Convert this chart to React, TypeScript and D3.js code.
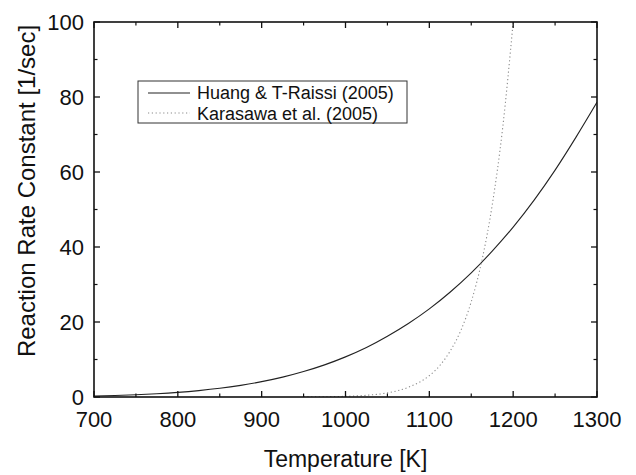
import React from "react";
import * as d3 from "d3";

// Temperature grid [K] and rate constants [1/sec]
const huangT = [700, 725, 750, 775, 800, 825, 850, 875, 900, 925, 950, 975, 1000, 1025, 1050, 1075, 1100, 1125, 1150, 1175, 1200, 1225, 1250, 1275, 1300];
const huangK = [0.26, 0.4, 0.6, 0.87, 1.23, 1.71, 2.32, 3.11, 4.09, 5.3, 6.79, 8.57, 10.7, 13.2, 16.2, 19.6, 23.5, 28.0, 33.1, 38.9, 45.3, 52.5, 60.5, 69.3, 78.6];

const karaT = [950, 975, 1000, 1025, 1050, 1075, 1100, 1112.5, 1125, 1137.5, 1150, 1162.5, 1175, 1187.5, 1200];
const karaK = [0.03, 0.07, 0.18, 0.46, 1.1, 2.6, 5.7, 8.4, 12.3, 17.7, 25.4, 36.2, 51.2, 71.8, 100];

const xTicks = [700, 800, 900, 1000, 1100, 1200, 1300];
const xMinor = [750, 850, 950, 1050, 1150, 1250];
const yTicks = [0, 20, 40, 60, 80, 100];
const yMinor = [10, 30, 50, 70, 90];

const legendLabels = ["Huang & T-Raissi (2005)", "Karasawa et al. (2005)"];

const W = 636;
const H = 475;
const M = { left: 94, top: 22, right: 597, bottom: 397 };
const FONT = "Arial, 'Liberation Sans', sans-serif";

export default function App() {
  const x = d3.scaleLinear().domain([700, 1300]).range([M.left, M.right]);
  const y = d3.scaleLinear().domain([0, 100]).range([M.bottom, M.top]);

  const line = d3
    .line<[number, number]>()
    .x((d) => x(d[0]))
    .y((d) => y(d[1]))
    .curve(d3.curveMonotoneX);

  const huang = line(huangT.map((t, i) => [t, huangK[i]]) as [number, number][]) || "";
  const kara = line(karaT.map((t, i) => [t, karaK[i]]) as [number, number][]) || "";

  const major = 6;
  const minor = 3.5;
  const axisColor = "#111";

  return (
    <svg
      width={W}
      height={H}
      style={{ position: "absolute", left: 0, top: 0, background: "#fff" }}
      fontFamily={FONT}
    >
      <rect width={W} height={H} fill="#fff" />
      <defs>
        <clipPath id="plot">
          <rect x={M.left} y={M.top} width={M.right - M.left} height={M.bottom - M.top} />
        </clipPath>
      </defs>

      {/* curves */}
      <g clipPath="url(#plot)">
        <path d={huang} fill="none" stroke="#222" strokeWidth={1.1} />
        <path d={kara} fill="none" stroke="#8a8a8a" strokeWidth={1.1} strokeDasharray="1.2 2.6" />
      </g>

      {/* frame */}
      <rect
        x={M.left}
        y={M.top}
        width={M.right - M.left}
        height={M.bottom - M.top}
        fill="none"
        stroke={axisColor}
        strokeWidth={1.6}
      />

      {/* x ticks, bottom and top, pointing inward */}
      {xTicks.map((t) => (
        <g key={"xt" + t}>
          <line x1={x(t)} x2={x(t)} y1={M.bottom} y2={M.bottom - major} stroke={axisColor} strokeWidth={1.3} />
          <line x1={x(t)} x2={x(t)} y1={M.top} y2={M.top + major} stroke={axisColor} strokeWidth={1.3} />
          <text x={x(t)} y={M.bottom + 30} textAnchor="middle" fontSize={22} fill="#111">
            {t}
          </text>
        </g>
      ))}
      {xMinor.map((t) => (
        <g key={"xm" + t}>
          <line x1={x(t)} x2={x(t)} y1={M.bottom} y2={M.bottom - minor} stroke={axisColor} strokeWidth={1.2} />
          <line x1={x(t)} x2={x(t)} y1={M.top} y2={M.top + minor} stroke={axisColor} strokeWidth={1.2} />
        </g>
      ))}

      {/* y ticks, left and right, pointing inward */}
      {yTicks.map((v) => (
        <g key={"yt" + v}>
          <line x1={M.left} x2={M.left + major} y1={y(v)} y2={y(v)} stroke={axisColor} strokeWidth={1.3} />
          <line x1={M.right} x2={M.right - major} y1={y(v)} y2={y(v)} stroke={axisColor} strokeWidth={1.3} />
          <text x={M.left - 10} y={y(v) + 8} textAnchor="end" fontSize={22} fill="#111">
            {v}
          </text>
        </g>
      ))}
      {yMinor.map((v) => (
        <g key={"ym" + v}>
          <line x1={M.left} x2={M.left + minor} y1={y(v)} y2={y(v)} stroke={axisColor} strokeWidth={1.2} />
          <line x1={M.right} x2={M.right - minor} y1={y(v)} y2={y(v)} stroke={axisColor} strokeWidth={1.2} />
        </g>
      ))}

      {/* axis titles */}
      <text x={(M.left + M.right) / 2} y={467} textAnchor="middle" fontSize={23} fill="#111">
        Temperature [K]
      </text>
      <text
        transform={`translate(35, 191) rotate(-90)`}
        textAnchor="middle"
        fontSize={24}
        fill="#111"
      >
        Reaction Rate Constant [1/sec]
      </text>

      {/* legend */}
      <g>
        <rect x={138} y={81} width={269} height={42} fill="#fff" stroke="#333" strokeWidth={1} />
        <line x1={148} x2={190} y1={93} y2={93} stroke="#222" strokeWidth={1.1} />
        <line x1={148} x2={190} y1={113} y2={113} stroke="#8a8a8a" strokeWidth={1.1} strokeDasharray="1.2 2.6" />
        <text x={197} y={99} fontSize={18} fill="#111">
          {legendLabels[0]}
        </text>
        <text x={197} y={119.5} fontSize={18} fill="#111">
          {legendLabels[1]}
        </text>
      </g>
    </svg>
  );
}
